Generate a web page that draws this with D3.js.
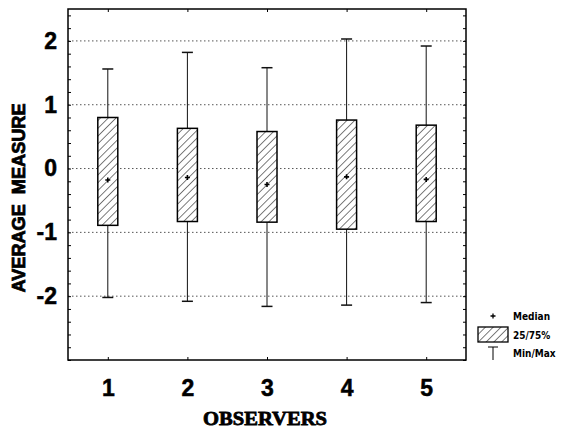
<!DOCTYPE html>
<html>
<head>
<meta charset="utf-8">
<script src="https://cdn.jsdelivr.net/npm/d3@7"></script>
<style>
  body { margin: 0; background: #fff; }
  svg { display: block; }
</style>
</head>
<body>
<div id="chart"></div>
<script>
// values
var observers = [1, 2, 3, 4, 5];
var maxVals = [1.56, 1.82, 1.58, 2.03, 1.92];
var q3Vals = [0.80, 0.63, 0.58, 0.76, 0.68];
var medianVals = [-0.18, -0.14, -0.25, -0.13, -0.17];
var q1Vals = [-0.89, -0.83, -0.84, -0.95, -0.83];
var minVals = [-2.02, -2.08, -2.16, -2.14, -2.10];
var yTicks = [-2, -1, 0, 1, 2];
var legendLabels = ["Median", "25/75%", "Min/Max"];

var W = 563, H = 431;
var pLeft = 68, pRight = 466, pTop = 9, pBottom = 360;

var svg = d3.select("#chart").append("svg")
  .attr("width", W).attr("height", H);

var x = d3.scaleLinear().domain([0.5, 5.5]).range([pLeft, pRight]);
var y = d3.scaleLinear().domain([-3, 2.5]).range([pBottom, pTop]);

// hatch pattern
var defs = svg.append("defs");
var pat = defs.append("pattern")
  .attr("id", "hatch")
  .attr("patternUnits", "userSpaceOnUse")
  .attr("width", 5.5).attr("height", 5.5)
  .attr("patternTransform", "rotate(45)");
pat.append("rect").attr("width", 5.5).attr("height", 5.5).attr("fill", "#fff");
pat.append("line")
  .attr("x1", 0).attr("y1", 0).attr("x2", 0).attr("y2", 5.5)
  .attr("stroke", "#111").attr("stroke-width", 1.1);

// dotted grid
svg.append("g").selectAll("line")
  .data(yTicks)
  .join("line")
  .attr("x1", pLeft).attr("x2", pRight)
  .attr("y1", function(d) { return y(d); })
  .attr("y2", function(d) { return y(d); })
  .attr("stroke", "#555")
  .attr("stroke-width", 1)
  .attr("stroke-dasharray", "1.5,2.5");

var minorTicks = d3.range(-3, 2.5, 0.2);

// minor ticks, inward on both sides
svg.append("g")
  .attr("transform", "translate(" + pLeft + ",0)")
  .call(d3.axisRight(y).tickValues(minorTicks).tickSize(3).tickFormat(""))
  .call(function(g) { g.select(".domain").remove(); });
svg.append("g")
  .attr("transform", "translate(" + pRight + ",0)")
  .call(d3.axisLeft(y).tickValues(minorTicks).tickSize(3).tickFormat(""))
  .call(function(g) { g.select(".domain").remove(); });
svg.append("g")
  .attr("transform", "translate(0," + pTop + ")")
  .call(d3.axisBottom(x).tickValues(observers).tickSize(3).tickFormat(""))
  .call(function(g) { g.select(".domain").remove(); });
svg.append("g")
  .attr("transform", "translate(0," + pBottom + ")")
  .call(d3.axisTop(x).tickValues(observers).tickSize(3).tickFormat(""))
  .call(function(g) { g.select(".domain").remove(); });

// tick labels (plain hyphen for negatives, like the original)
var plain = function(d) { return String(d); };
var yAxis = svg.append("g")
  .attr("transform", "translate(" + pLeft + ",0)")
  .call(d3.axisLeft(y).tickValues(yTicks).tickSize(0).tickPadding(11).tickFormat(plain));
yAxis.select(".domain").remove();
yAxis.selectAll("text")
  .attr("font-family", "'Liberation Sans Narrow', 'Liberation Sans', sans-serif")
  .attr("font-weight", "bold")
  .attr("font-size", 23)
  .attr("stroke", "#000").attr("stroke-width", 0.5)
  .attr("fill", "#000");

var xAxis = svg.append("g")
  .attr("transform", "translate(0," + pBottom + ")")
  .call(d3.axisBottom(x).tickValues(observers).tickSize(0).tickPadding(20).tickFormat(plain));
xAxis.select(".domain").remove();
xAxis.selectAll("text")
  .attr("font-family", "'Liberation Sans Narrow', 'Liberation Sans', sans-serif")
  .attr("font-weight", "bold")
  .attr("font-size", 23)
  .attr("stroke", "#000").attr("stroke-width", 0.5)
  .attr("fill", "#000");

// whiskers
var bw = 20, cap = 11;
var g = svg.append("g");
g.selectAll("line.whisker")
  .data(observers)
  .join("line")
  .attr("class", "whisker")
  .attr("x1", function(d) { return x(d); })
  .attr("x2", function(d) { return x(d); })
  .attr("y1", function(d, i) { return y(maxVals[i]); })
  .attr("y2", function(d, i) { return y(minVals[i]); })
  .attr("stroke", "#111").attr("stroke-width", 1);
g.selectAll("line.capmax")
  .data(observers)
  .join("line")
  .attr("class", "capmax")
  .attr("x1", function(d) { return x(d) - cap / 2; })
  .attr("x2", function(d) { return x(d) + cap / 2; })
  .attr("y1", function(d, i) { return y(maxVals[i]); })
  .attr("y2", function(d, i) { return y(maxVals[i]); })
  .attr("stroke", "#111").attr("stroke-width", 1.5);
g.selectAll("line.capmin")
  .data(observers)
  .join("line")
  .attr("class", "capmin")
  .attr("x1", function(d) { return x(d) - cap / 2; })
  .attr("x2", function(d) { return x(d) + cap / 2; })
  .attr("y1", function(d, i) { return y(minVals[i]); })
  .attr("y2", function(d, i) { return y(minVals[i]); })
  .attr("stroke", "#111").attr("stroke-width", 1.5);

// boxes
g.selectAll("rect.box")
  .data(observers)
  .join("rect")
  .attr("class", "box")
  .attr("x", function(d) { return x(d) - bw / 2; })
  .attr("width", bw)
  .attr("y", function(d, i) { return y(q3Vals[i]); })
  .attr("height", function(d, i) { return y(q1Vals[i]) - y(q3Vals[i]); })
  .attr("fill", "url(#hatch)")
  .attr("stroke", "#000").attr("stroke-width", 1.5);

// medians
g.selectAll("path.median")
  .data(observers)
  .join("path")
  .attr("class", "median")
  .attr("d", function(d, i) {
    var cx = x(d), cy = y(medianVals[i]);
    return "M" + (cx - 2.5) + "," + cy + "H" + (cx + 2.5) + "M" + cx + "," + (cy - 2.5) + "V" + (cy + 2.5);
  })
  .attr("stroke", "#000").attr("stroke-width", 1.6);

// frame
svg.append("rect")
  .attr("x", pLeft).attr("y", pTop)
  .attr("width", pRight - pLeft).attr("height", pBottom - pTop)
  .attr("fill", "none").attr("stroke", "#000").attr("stroke-width", 1.5);

// axis titles
svg.append("text")
  .attr("transform", "translate(25,198) rotate(-90)")
  .attr("text-anchor", "middle")
  .attr("font-family", "'Liberation Sans', sans-serif")
  .attr("font-weight", "bold")
  .attr("font-size", 18)
  .attr("stroke", "#000").attr("stroke-width", 0.8)
  .attr("textLength", 189)
  .attr("lengthAdjust", "spacingAndGlyphs")
  .style("white-space", "pre")
  .text("AVERAGE  MEASURE");

svg.append("text")
  .attr("x", 265).attr("y", 425)
  .attr("text-anchor", "middle")
  .attr("font-family", "'Liberation Serif', serif")
  .attr("font-weight", "bold")
  .attr("font-size", 19.5)
  .attr("stroke", "#000").attr("stroke-width", 0.8)
  .attr("textLength", 124)
  .attr("lengthAdjust", "spacingAndGlyphs")
  .text("OBSERVERS");

// legend
var lg = svg.append("g").attr("transform", "translate(493,0)");
lg.append("path")
  .attr("d", "M-2.5,316H2.5M0,313.5V318.5")
  .attr("stroke", "#000").attr("stroke-width", 1.3);
lg.append("rect")
  .attr("x", -15).attr("y", 327).attr("width", 30).attr("height", 15)
  .attr("fill", "url(#hatch)").attr("stroke", "#000").attr("stroke-width", 1.3);
lg.append("path")
  .attr("d", "M-5,347H5M0,347V360")
  .attr("stroke", "#000").attr("stroke-width", 1);
lg.selectAll("text")
  .data(legendLabels)
  .join("text")
  .attr("x", 20)
  .attr("y", function(d, i) { return [316, 335, 353][i]; })
  .attr("dy", "0.35em")
  .attr("font-family", "'DejaVu Sans Condensed', 'DejaVu Sans', sans-serif")
  .attr("font-weight", "bold")
  .attr("font-size", 10)
  .text(function(d) { return d; });
</script>
</body>
</html>
